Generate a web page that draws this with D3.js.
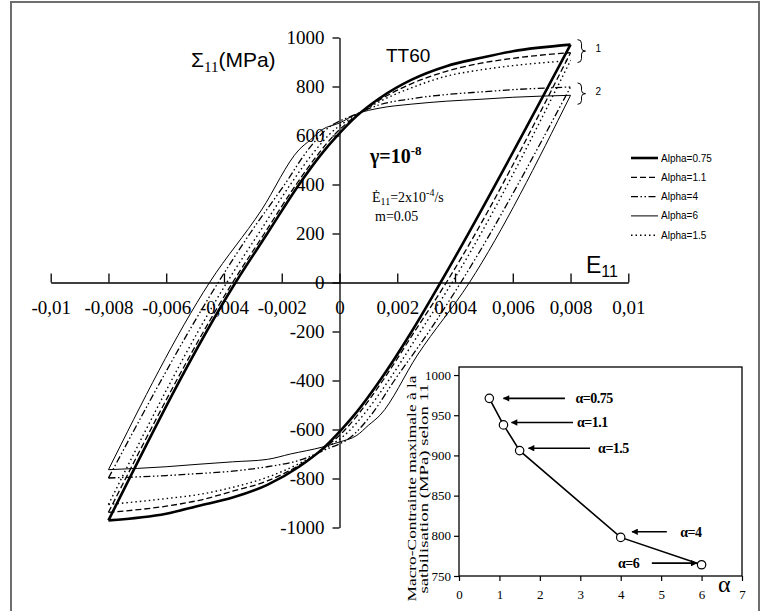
<!DOCTYPE html>
<html>
<head>
<meta charset="utf-8">
<script src="https://cdn.jsdelivr.net/npm/d3@7"></script>
<style>
  body { margin: 0; background: #fff; }
  svg { display: block; }
</style>
</head>
<body>
<div class="canvas"></div>
<script>
// hysteresis loops, [E11, Sigma11]
const load075 = [[-0.008,-971],[-0.0036,0],[-0.0025,200],[-0.0014,400],[-0.0006,528],[-0.0001,596],[0.0006,680],[0.0014,753],[0.0025,828],[0.0037,883],[0.0049,917],[0.006,944],[0.008,971]];
const unload075 = [[-0.008,-971],[-0.006,-944],[-0.0049,-912],[-0.0037,-878],[-0.0025,-826],[-0.0014,-752],[-0.0006,-680],[0.0001,-596],[0.0006,-528],[0.0014,-400],[0.0025,-200],[0.0035,0],[0.008,971]];
const load11 = [[-0.008,-938],[-0.0037,0],[-0.0026,200],[-0.0015,400],[-0.0007,530],[-0.0002,600],[0.0006,683],[0.0014,746],[0.0025,812],[0.0037,862],[0.0049,895],[0.006,915],[0.008,938]];
const unload11 = [[-0.008,-938],[-0.006,-913],[-0.0049,-890],[-0.0037,-852],[-0.0025,-810],[-0.0014,-746],[-0.0006,-683],[0.0002,-600],[0.0007,-530],[0.0015,-400],[0.0026,-200],[0.0037,0],[0.008,938]];
const load15 = [[-0.008,-906],[-0.0039,0],[-0.0028,200],[-0.0017,400],[-0.0009,530],[-0.0003,610],[0.0006,685],[0.0014,739],[0.0025,795],[0.0037,842],[0.0049,868],[0.006,885],[0.008,906]];
const unload15 = [[-0.008,-906],[-0.006,-882],[-0.0049,-866],[-0.0037,-836],[-0.0025,-795],[-0.0014,-739],[-0.0006,-685],[0.0003,-610],[0.0009,-530],[0.0017,-400],[0.0028,-200],[0.0039,0],[0.008,906]];
const load4 = [[-0.008,-798],[-0.0042,0],[-0.0031,200],[-0.0019,400],[-0.0011,540],[-0.0005,620],[0.0006,688],[0.0014,726],[0.0025,750],[0.0037,767],[0.0049,778],[0.006,787],[0.008,798]];
const unload4 = [[-0.008,-798],[-0.006,-788],[-0.0049,-780],[-0.0037,-770],[-0.0025,-752],[-0.0014,-726],[-0.0006,-688],[0.0005,-620],[0.0011,-540],[0.0019,-400],[0.0031,-200],[0.0042,0],[0.008,798]];
const load6 = [[-0.008,-764],[-0.0045,0],[-0.0027,296],[-0.0014,542],[-0.001,583],[-0.0006,624],[0,651],[0.0006,688],[0.0014,712],[0.0025,728],[0.0037,740],[0.0049,748],[0.006,756],[0.008,764]];
const unload6 = [[-0.008,-764],[-0.006,-752],[-0.0049,-742],[-0.0037,-732],[-0.0025,-722],[-0.0017,-700],[-0.0006,-672],[0,-651],[0.0006,-624],[0.001,-583],[0.0014,-542],[0.0027,-296],[0.0045,0],[0.008,764]];

const legendLabels = ['Alpha=0.75', 'Alpha=1.1', 'Alpha=4', 'Alpha=6', 'Alpha=1.5'];
const strainTicks = [-0.01, -0.008, -0.006, -0.004, -0.002, 0, 0.002, 0.004, 0.006, 0.008, 0.01];
const stressTicks = [-1000, -800, -600, -400, -200, 0, 200, 400, 600, 800, 1000];

// inset: max stress at stabilisation vs alpha
const alphas = [0.75, 1.1, 1.5, 4, 6];
const maxStress = [971, 938, 906, 798, 764];
const alphaTicks = [0, 1, 2, 3, 4, 5, 6, 7];
const maxTicks = [750, 800, 850, 900, 950, 1000];

const dims = { width: 763, height: 611 };
const serif = '"Liberation Serif", "Times New Roman", serif';
const sans = '"Liberation Sans", Arial, sans-serif';

const svg = d3.select('.canvas')
  .append('svg')
  .attr('width', dims.width)
  .attr('height', dims.height);

// outer frame
svg.append('rect')
  .attr('x', 11).attr('y', 2)
  .attr('width', 748).attr('height', 640)
  .attr('fill', 'none')
  .attr('stroke', '#6e6e6e')
  .attr('stroke-width', 2);

const x = d3.scaleLinear().domain([-0.01, 0.01]).range([50.7, 628.3]);
const y = d3.scaleLinear().domain([-1000, 1000]).range([527.5, 37.5]);

const strainFmt = d => d === 0 ? '0' : String(+d.toFixed(3)).replace('.', ',');

const xAxis = svg.append('g')
  .attr('transform', `translate(0, ${y(0)})`)
  .call(d3.axisBottom(x).tickValues(strainTicks).tickFormat(strainFmt)
    .tickSizeInner(-9).tickSizeOuter(0).tickPadding(13));

const yAxis = svg.append('g')
  .attr('transform', `translate(${x(0)}, 0)`)
  .call(d3.axisLeft(y).tickValues(stressTicks).tickFormat(d => String(d))
    .tickSizeInner(7).tickSizeOuter(0).tickPadding(8));

[xAxis, yAxis].forEach(g => {
  g.attr('font-family', serif).attr('font-size', 19);
  g.selectAll('path, line').attr('stroke', '#000').attr('stroke-width', 1.3);
  g.selectAll('text').attr('fill', '#000').attr('font-family', serif);
});
xAxis.selectAll('text').attr('dy', '0.95em');

// loops
const series = [
  { label: legendLabels[0], load: load075, unload: unload075, w: 2.6, dash: null },
  { label: legendLabels[1], load: load11, unload: unload11, w: 1.3, dash: '6,3' },
  { label: legendLabels[2], load: load4, unload: unload4, w: 1.3, dash: '7,2.5,1.5,2.5,1.5,2.5' },
  { label: legendLabels[3], load: load6, unload: unload6, w: 1, dash: null },
  { label: legendLabels[4], load: load15, unload: unload15, w: 1.4, dash: '1.5,3' }
];

const line = d3.line()
  .x(d => x(d[0]))
  .y(d => y(d[1]))
  .curve(d3.curveMonotoneX);

const loops = svg.append('g');
series.forEach(s => {
  [s.load, s.unload].forEach(branch => {
    loops.append('path')
      .attr('d', line(branch))
      .attr('fill', 'none')
      .attr('stroke', '#000')
      .attr('stroke-width', s.w)
      .attr('stroke-dasharray', s.dash);
  });
});

// legend
const legend = svg.append('g').attr('transform', 'translate(631, 158)');
series.forEach((s, i) => {
  const row = legend.append('g').attr('transform', `translate(0, ${i * 19.3})`);
  row.append('line')
    .attr('x1', 0).attr('x2', 27)
    .attr('stroke', '#000')
    .attr('stroke-width', s.w)
    .attr('stroke-dasharray', s.dash);
  row.append('text')
    .attr('x', 30).attr('y', 3.5)
    .attr('font-family', sans).attr('font-size', 10)
    .text(s.label);
});

// braces 1 and 2
const brace = (x0, y0, y1) => {
  const ym = (y0 + y1) / 2;
  return `M${x0},${y0} Q${x0 + 4},${y0} ${x0 + 4},${y0 + 4} L${x0 + 4},${ym - 3} Q${x0 + 4},${ym} ${x0 + 8},${ym}` +
    ` Q${x0 + 4},${ym} ${x0 + 4},${ym + 3} L${x0 + 4},${y1 - 4} Q${x0 + 4},${y1} ${x0},${y1}`;
};
[[y(971) - 5, y(906) + 2, '1'], [y(798) - 4, y(764) + 9, '2']].forEach(([y0, y1, t]) => {
  svg.append('path')
    .attr('d', brace(x(0.008) + 7, y0, y1))
    .attr('fill', 'none').attr('stroke', '#000').attr('stroke-width', 1);
  svg.append('text')
    .attr('x', x(0.008) + 25).attr('y', (y0 + y1) / 2 + 1)
    .attr('font-family', sans).attr('font-size', 10)
    .text(t);
});

// titles
const sig = svg.append('text').attr('x', 191).attr('y', 67)
  .attr('font-family', sans).attr('font-size', 21);
sig.append('tspan').text('Σ');
sig.append('tspan').attr('dy', 5).attr('font-family', serif).attr('font-size', 15).text('11');
sig.append('tspan').attr('dy', -5).text('(MPa)');

svg.append('text').attr('x', 386).attr('y', 62)
  .attr('font-family', sans).attr('font-size', 19)
  .text('TT60');

const e11 = svg.append('text').attr('x', 586).attr('y', 273)
  .attr('font-family', sans).attr('font-size', 23);
e11.append('tspan').text('E');
e11.append('tspan').attr('dy', 4).attr('font-size', 16).text('11');

const gam = svg.append('text').attr('x', 370).attr('y', 163)
  .attr('font-family', serif).attr('font-size', 20).attr('font-weight', 'bold');
gam.append('tspan').text('γ=10');
gam.append('tspan').attr('dy', -8).attr('font-size', 13).text('-8');

const rate = svg.append('text').attr('x', 372).attr('y', 202)
  .attr('font-family', serif).attr('font-size', 14);
rate.append('tspan').text('Ė');
rate.append('tspan').attr('dy', 3).attr('font-size', 10).text('11');
rate.append('tspan').attr('dy', -3).text('=2x10');
rate.append('tspan').attr('dy', -6).attr('font-size', 10).text('-4');
rate.append('tspan').attr('dy', 6).text('/s');

svg.append('text').attr('x', 375).attr('y', 221)
  .attr('font-family', serif).attr('font-size', 14)
  .text('m=0.05');

// inset
const xi = d3.scaleLinear().domain([0, 7]).range([459, 742]);
const yi = d3.scaleLinear().domain([750, 1010]).range([576, 367]);

svg.append('rect')
  .attr('x', xi(0)).attr('y', yi(1010))
  .attr('width', xi(7) - xi(0)).attr('height', yi(750) - yi(1010))
  .attr('fill', '#fff').attr('stroke', '#000').attr('stroke-width', 1.3);

const xiAxis = svg.append('g')
  .attr('transform', `translate(0, ${yi(750)})`)
  .call(d3.axisBottom(xi).tickValues(alphaTicks).tickFormat(d3.format('d'))
    .tickSizeInner(5).tickSizeOuter(0).tickPadding(9));
const yiAxis = svg.append('g')
  .attr('transform', `translate(${xi(0)}, 0)`)
  .call(d3.axisLeft(yi).tickValues(maxTicks).tickFormat(d3.format('d'))
    .tickSizeInner(5).tickSizeOuter(0).tickPadding(3));
[xiAxis, yiAxis].forEach(g => {
  g.attr('font-family', serif).attr('font-size', 13);
  g.select('.domain').remove();
  g.selectAll('line').attr('stroke', '#000').attr('stroke-width', 1.2);
  g.selectAll('text').attr('fill', '#000');
});

const insetPts = alphas.map((a, i) => [a, maxStress[i]]);
svg.append('path')
  .attr('d', d3.line().x(d => xi(d[0])).y(d => yi(d[1]))(insetPts))
  .attr('fill', 'none').attr('stroke', '#000').attr('stroke-width', 1.6);
svg.selectAll('.pt').data(insetPts).enter().append('circle')
  .attr('class', 'pt')
  .attr('cx', d => xi(d[0])).attr('cy', d => yi(d[1]))
  .attr('r', 4.2)
  .attr('fill', '#fff').attr('stroke', '#000').attr('stroke-width', 1.2);

svg.append('defs').append('marker')
  .attr('id', 'head')
  .attr('viewBox', '0 0 10 10')
  .attr('refX', 9).attr('refY', 5)
  .attr('markerWidth', 5).attr('markerHeight', 4)
  .attr('orient', 'auto')
  .append('path').attr('d', 'M0,0 L10,5 L0,10 Z').attr('fill', '#000');

// arrow annotations, in inset data units
const notes = [
  { t: 'α=0.75', v: 971, from: 2.62, to: 1.1, tx: 2.88 },
  { t: 'α=1.1', v: 941, from: 2.82, to: 1.3, tx: 2.92 },
  { t: 'α=1.5', v: 909, from: 3.24, to: 1.72, tx: 3.44 },
  { t: 'α=4', v: 805, from: 5.14, to: 4.28, tx: 5.47 },
  { t: 'α=6', v: 766, from: 4.77, to: 5.88, tx: 3.93 }
];
notes.forEach(n => {
  svg.append('line')
    .attr('x1', xi(n.from)).attr('x2', xi(n.to))
    .attr('y1', yi(n.v)).attr('y2', yi(n.v))
    .attr('stroke', '#000').attr('stroke-width', 1.6)
    .attr('marker-end', 'url(#head)');
  svg.append('text')
    .attr('x', xi(n.tx)).attr('y', yi(n.v) + 5)
    .attr('font-family', serif).attr('font-size', 14).attr('font-weight', 'bold')
    .attr('letter-spacing', '-0.5')
    .text(n.t);
});

svg.append('text').attr('x', 718).attr('y', 592)
  .attr('font-family', serif).attr('font-size', 24)
  .text('α');

const ylab = svg.append('text')
  .attr('transform', `translate(416, ${yi(880) + 17}) rotate(-90)`)
  .attr('text-anchor', 'middle')
  .attr('font-family', serif).attr('font-size', 12.5);
ylab.append('tspan').attr('x', 0).attr('y', 0)
  .attr('textLength', 226).attr('lengthAdjust', 'spacingAndGlyphs')
  .text('Macro-Contrainte maximale à la');
ylab.append('tspan').attr('x', 0).attr('y', 11.5)
  .attr('textLength', 210).attr('lengthAdjust', 'spacingAndGlyphs')
  .text('satbilisation (MPa) selon 11');
</script>
</body>
</html>
